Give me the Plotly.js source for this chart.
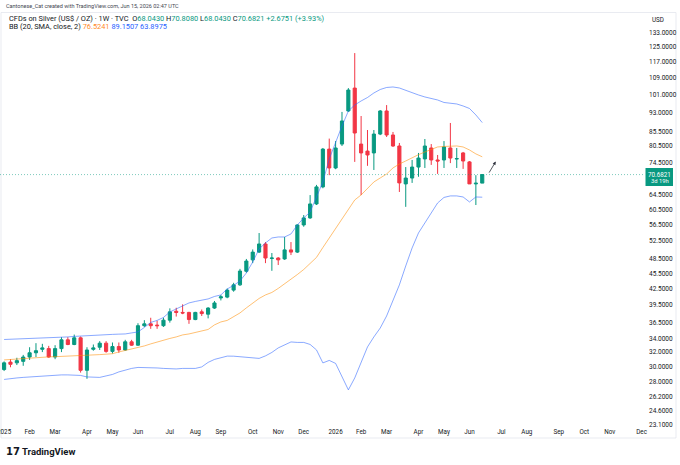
<!DOCTYPE html>
<html>
<head>
<meta charset="utf-8">
<script src="https://cdn.plot.ly/plotly-3.0.1.min.js"></script>
<style>
  html, body { margin: 0; padding: 0; background: #ffffff; }
  #chart { width: 680px; height: 465px; }
</style>
</head>
<body>
<div id="chart"></div>
<script>
// ---------- data (weekly candles, CFDs on Silver, TVC) ----------
const weeks = ['2025-01-06','2025-01-13','2025-01-20','2025-01-27','2025-02-03','2025-02-10','2025-02-17','2025-02-24',
  '2025-03-03','2025-03-10','2025-03-17','2025-03-24','2025-03-31','2025-04-07','2025-04-14','2025-04-21','2025-04-28',
  '2025-05-05','2025-05-12','2025-05-19','2025-05-26','2025-06-02','2025-06-09','2025-06-16','2025-06-23','2025-06-30',
  '2025-07-07','2025-07-14','2025-07-21','2025-07-28','2025-08-04','2025-08-11','2025-08-18','2025-08-25','2025-09-01',
  '2025-09-08','2025-09-15','2025-09-22','2025-09-29','2025-10-06','2025-10-13','2025-10-20','2025-10-27','2025-11-03',
  '2025-11-10','2025-11-17','2025-11-24','2025-12-01','2025-12-08','2025-12-15','2025-12-22','2025-12-29','2026-01-05',
  '2026-01-12','2026-01-19','2026-01-26','2026-02-02','2026-02-09','2026-02-16','2026-02-23','2026-03-02','2026-03-09',
  '2026-03-16','2026-03-23','2026-03-30','2026-04-06','2026-04-13','2026-04-20','2026-04-27','2026-05-04','2026-05-11',
  '2026-05-18','2026-05-25','2026-06-01','2026-06-08','2026-06-15'];

const openP = [29.6,30.6,30.5,30.7,31.3,31.9,32.4,32.5,31.3,32.5,33.8,33.1,34.1,29.5,32.4,32.7,33.3,32.1,32.8,32.3,33.5,33.0,
  36.0,36.3,36.1,36.0,36.9,38.4,38.2,38.2,37.0,38.3,37.9,38.95,40.75,40.9,42.2,43.2,45.9,48.3,50.0,51.85,48.6,48.7,48.5,50.5,50.0,56.45,58.25,62.0,66.9,79.2,
  72.8,81.0,93.9,104.0,81.0,78.5,77.85,84.7,93.9,84.35,80.3,67.8,69.6,73.1,75.8,79.6,75.45,75.45,79.6,75.8,77.85,74.8,67.8,68.043];
const highP = [30.7,31.0,31.2,31.6,32.7,33.3,33.2,32.9,33.0,34.2,34.2,34.6,34.3,32.7,33.1,33.6,33.6,33.4,33.4,33.8,33.8,36.4,
  36.9,37.3,36.8,37.3,38.9,39.0,39.6,38.3,38.3,38.7,39.1,40.2,41.3,42.5,43.6,46.4,48.5,50.6,54.45,52.3,49.8,48.9,53.5,52.3,56.6,59.0,64.5,67.5,79.6,83.0,
  82.1,93.5,104.0,121.6,91.8,86.25,86.25,94.3,96.4,85.5,81.4,73.1,75.45,77.85,82.85,81.0,77.15,82.1,89.0,79.6,78.2,75.1,70.5,70.808];
const lowP = [29.4,29.9,30.2,30.1,30.9,31.3,32.0,31.2,31.0,32.0,33.0,33.0,29.2,28.4,32.2,32.3,31.9,31.8,31.9,32.2,32.9,32.9,
  35.8,35.5,35.5,35.8,36.5,37.5,37.9,36.3,36.9,37.6,37.2,38.8,40.3,40.7,41.9,43.0,45.6,47.6,49.8,47.6,46.0,47.2,48.3,49.35,49.8,56.0,58.0,61.7,66.5,70.5,
  72.4,80.3,93.5,74.8,64.5,73.5,72.15,84.3,83.6,80.0,65.4,61.2,68.1,70.0,72.8,73.8,70.9,72.8,74.4,72.8,72.5,67.8,61.7,68.043];
const closeP = [30.5,30.3,30.8,31.3,31.9,32.2,32.6,31.3,32.5,33.8,33.1,34.1,29.5,32.3,32.6,33.3,32.1,32.8,32.3,33.5,33.0,36.0,
  36.3,36.0,36.0,36.9,38.3,38.2,38.1,37.0,38.2,38.0,38.95,39.85,40.95,42.2,43.2,45.95,48.05,50.0,51.85,48.7,48.7,48.3,50.5,50.0,56.45,58.25,62.0,66.9,79.2,72.8,
  79.6,89.8,103.1,85.1,77.85,77.15,84.7,93.9,84.35,80.3,68.1,69.6,73.1,76.1,80.3,75.45,75.1,79.95,76.1,75.9,75.1,67.8,68.007,70.6821];

// Bollinger Bands (20, SMA, close, 2)
const bbBasis = [30.90,30.97,31.04,31.11,31.18,31.25,31.32,31.32,31.35,31.38,31.40,31.43,31.46,31.53,31.60,31.64,31.70,31.77,32.02,32.24,
  32.45,32.60,32.89,33.19,33.48,33.71,34.01,34.24,34.55,34.70,34.94,35.17,35.40,36.13,36.61,36.86,37.44,38.11,38.98,39.85,
  40.66,41.30,41.76,42.52,43.38,44.26,45.24,46.27,47.64,48.83,51.03,53.27,55.45,57.98,60.63,63.11,64.54,66.29,68.39,69.62,
  70.87,72.81,74.11,75.11,76.29,77.25,78.19,79.07,79.96,80.14,80.32,80.32,79.96,78.89,77.52,76.5241];
const bbUpper = [33.85,33.88,33.93,33.96,34.01,34.06,34.08,34.13,34.16,34.19,34.24,34.32,34.39,34.44,34.50,34.55,34.60,34.63,34.67,34.70,
  34.86,35.01,35.72,36.53,36.86,37.35,38.28,38.79,39.24,39.85,40.12,40.39,40.57,41.02,41.30,42.42,43.09,43.96,45.56,47.85,
  50.72,52.09,53.26,53.50,53.50,54.22,56.45,58.23,59.81,63.96,68.39,75.79,81.76,87.82,93.89,96.45,98.18,99.72,101.75,103.35,
  104.28,104.52,104.05,102.89,101.75,100.85,99.96,99.28,98.62,97.53,97.10,96.88,96.02,94.95,92.25,89.1507];
const bbLower = [28.32,28.45,28.51,28.58,28.64,28.70,28.77,28.83,28.83,28.90,28.90,28.90,28.83,28.64,28.58,28.58,28.77,28.96,29.29,29.55,
  29.75,29.88,29.88,29.81,29.81,29.75,29.68,29.68,29.75,29.75,29.75,29.95,30.56,30.97,31.25,31.43,31.42,31.35,31.22,31.11,
  31.11,31.46,31.95,32.60,33.04,33.48,33.41,33.41,33.11,32.31,30.49,30.83,30.42,28.64,27.03,28.51,30.49,32.74,34.24,35.63,
  37.60,40.39,43.19,47.01,50.94,54.47,56.95,59.55,62.27,63.83,64.26,64.26,63.96,62.55,63.96,63.8975];

// axis ticks
const xTickVals = ['2025-01-06','2025-02-03','2025-03-03','2025-04-07','2025-05-05','2025-06-02','2025-07-07','2025-08-04',
  '2025-09-01','2025-10-06','2025-11-03','2025-12-01','2026-01-05','2026-02-02','2026-03-02','2026-04-06','2026-05-04',
  '2026-06-01','2026-07-06','2026-08-03','2026-09-07','2026-10-05','2026-11-02','2026-12-07'];
const xTickText = ['2025','Feb','Mar','Apr','May','Jun','Jul','Aug','Sep','Oct','Nov','Dec',
  '2026','Feb','Mar','Apr','May','Jun','Jul','Aug','Sep','Oct','Nov','Dec'];
const yTickVals = [23.1,24.6,26.2,28,30,32,34,36.5,39.5,42.5,45.5,48.5,52.5,56.5,60.5,64.5,74.5,80.5,85.5,93,101,109,117,125,133];

// ---------- layout helpers ----------
const FONT = 'Roboto, "Liberation Sans", Arial, sans-serif';
const W = 645, H = 414, T = 12;
const yMin = 23.005, yMax = 146.07;
const lo = Math.log10(yMin), hi = Math.log10(yMax);
const xRange = ['2025-01-01 12:00', '2026-12-10 17:00'];
function pX(px) { return px / W; }
function pY(py) { return (T + H - py) / H; }
function yp(v) { return (Math.log10(v) - lo) / (hi - lo); }

const GREEN = '#089981', RED = '#F23645';
const n = closeP.length;
const lastO = openP[n-1], lastH = highP[n-1], lastL = lowP[n-1], lastC = closeP[n-1];
const chg = lastC - closeP[n-2];
const pct = chg / closeP[n-2] * 100;
const f4 = v => v.toFixed(4);
const g = s => '<span style="color:' + GREEN + '">' + s + '</span>';

const traces = [
  {
    type: 'candlestick', x: weeks, open: openP, high: highP, low: lowP, close: closeP,
    increasing: { line: { color: GREEN, width: 1 }, fillcolor: GREEN },
    decreasing: { line: { color: RED, width: 1 }, fillcolor: RED },
    whiskerwidth: 0, hoverinfo: 'skip', showlegend: false
  },
  { type: 'scatter', mode: 'lines', x: weeks, y: bbUpper, line: { color: 'rgba(41,98,255,0.55)', width: 1 }, hoverinfo: 'skip' },
  { type: 'scatter', mode: 'lines', x: weeks, y: bbLower, line: { color: 'rgba(41,98,255,0.55)', width: 1 }, hoverinfo: 'skip' },
  { type: 'scatter', mode: 'lines', x: weeks, y: bbBasis, line: { color: 'rgba(255,140,0,0.55)', width: 1 }, hoverinfo: 'skip' },
  { type: 'scatter', mode: 'lines', x: xRange, y: [lastC, lastC], line: { color: 'rgba(8,153,129,0.75)', width: 0.7, dash: '1px,2px' }, hoverinfo: 'skip' }
];

const header2 = 'CFDs on Silver (US$ / OZ) · 1W · TVC  O' + g(f4(lastO)) + ' H' + g(f4(lastH)) + ' L' + g(f4(lastL)) +
  ' C' + g(f4(lastC)) + ' ' + g((chg >= 0 ? '+' : '') + f4(chg) + ' (' + (pct >= 0 ? '+' : '') + pct.toFixed(2) + '%)');
const header3 = 'BB (20, SMA, close, 2) <span style="color:#FF8A1F">' + f4(bbBasis[n-1]) + '</span> ' +
  '<span style="color:#2962FF">' + f4(bbUpper[n-1]) + '</span> <span style="color:#2962FF">' + f4(bbLower[n-1]) + '</span>';

const layout = {
  width: 680, height: 465,
  margin: { l: 0, r: 35, t: 12, b: 39, pad: 0 },
  paper_bgcolor: '#ffffff', plot_bgcolor: '#ffffff',
  showlegend: false,
  font: { family: FONT, color: '#131722', size: 6 },
  xaxis: {
    type: 'date', range: xRange, rangeslider: { visible: false },
    tickmode: 'array', tickvals: xTickVals, ticktext: xTickText,
    showgrid: false, zeroline: false, showline: false, ticks: '',
    tickfont: { family: FONT, size: 6.3, color: '#131722' },
    ticklabeloverflow: 'allow', ticklabelstandoff: 1, fixedrange: true
  },
  yaxis: {
    type: 'log', side: 'right', range: [lo, hi],
    tickmode: 'array', tickvals: yTickVals, ticktext: yTickVals.map(f4),
    showgrid: false, zeroline: false, showline: false, ticks: '',
    tickfont: { family: FONT, size: 6.5, color: '#131722' },
    ticklabelstandoff: 3, fixedrange: true
  },
  shapes: [
    { type: 'rect', xref: 'paper', yref: 'paper', x0: pX(1), x1: pX(676), y0: pY(438), y1: pY(12.5),
      line: { color: '#e0e3eb', width: 0.7 }, fillcolor: 'rgba(0,0,0,0)', layer: 'below' },
    { type: 'rect', xref: 'paper', yref: 'paper', x0: pX(645.5), x1: pX(673), y0: yp(lastC) - 11.4 / H, y1: yp(lastC) + 6.6 / H,
      line: { width: 0 }, fillcolor: GREEN, layer: 'above' }
  ],
  annotations: [
    { xref: 'paper', yref: 'paper', x: pX(4), y: pY(6), xanchor: 'left', yanchor: 'middle', showarrow: false,
      text: 'Cantonese_Cat created with TradingView.com, Jun 15, 2026 02:47 UTC', font: { family: FONT, size: 5.5, color: '#434651' } },
    { xref: 'paper', yref: 'paper', x: pX(7), y: pY(18.5), xanchor: 'left', yanchor: 'middle', showarrow: false,
      text: header2, font: { family: FONT, size: 7.4, color: '#131722' } },
    { xref: 'paper', yref: 'paper', x: pX(7), y: pY(26.5), xanchor: 'left', yanchor: 'middle', showarrow: false,
      text: header3, font: { family: FONT, size: 7.4, color: '#131722' } },
    { xref: 'paper', yref: 'paper', x: pX(650), y: pY(20), xanchor: 'left', yanchor: 'middle', showarrow: false,
      text: 'USD', font: { family: FONT, size: 6.3, color: '#131722' } },
    { xref: 'paper', yref: 'paper', x: pX(659.5), y: yp(lastC), xanchor: 'center', yanchor: 'middle', showarrow: false,
      text: f4(lastC), font: { family: FONT, size: 6.3, color: '#ffffff' } },
    { xref: 'paper', yref: 'paper', x: pX(659.5), y: yp(lastC) - 6.8 / H, xanchor: 'center', yanchor: 'middle', showarrow: false,
      text: '3d 19h', font: { family: FONT, size: 5.8, color: '#ffffff' } },
    { xref: 'x', yref: 'y', x: '2026-06-29 19:00', y: Math.log10(74.9), ax: -7.5, ay: 12.5,
      showarrow: true, arrowhead: 2, arrowsize: 0.8, arrowwidth: 0.8, arrowcolor: '#2a2e39', text: '' },
    { xref: 'paper', yref: 'paper', x: pX(4), y: pY(451), xanchor: 'left', yanchor: 'middle', showarrow: false,
      text: '<b>17</b>', font: { family: '"DejaVu Sans", sans-serif', size: 10, color: '#131722' } },
    { xref: 'paper', yref: 'paper', x: pX(20), y: pY(451), xanchor: 'left', yanchor: 'middle', showarrow: false,
      text: '<b>TradingView</b>', font: { family: FONT, size: 9.5, color: '#131722' } }
  ]
};

Plotly.newPlot('chart', traces, layout, { displayModeBar: false, staticPlot: true });
</script>
</body>
</html>
